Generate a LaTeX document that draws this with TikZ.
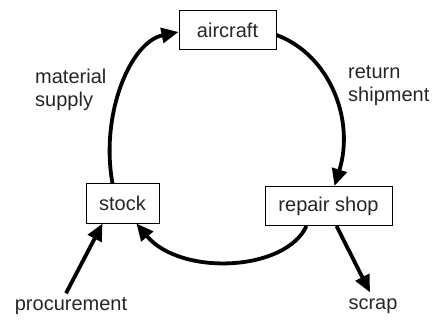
\documentclass[tikz,border=0pt]{standalone}
\usepackage{fontspec}
\setmainfont{Liberation Sans}
\usetikzlibrary{arrows.meta,calc}
\begin{document}
\begin{tikzpicture}[x=1pt,y=-1pt,
  every node/.style={font=\fontsize{20}{23}\selectfont, text=black!85},
  box/.style={draw=black, line width=1pt, fill=white, minimum height=39pt, inner sep=0pt},
  flow/.style={line width=3.8pt, -{Triangle[length=17pt,width=15pt]}},
  lbl/.style={align=left, inner sep=0pt}]
\useasboundingbox (0,0) rectangle (433,320);

\node[box, minimum width=97pt] (aircraft) at (227.5,30) {aircraft};
\node[box, minimum width=73pt] (stock) at (122.5,203.5) {stock};
\node[box, minimum width=127pt] (repair) at (328.5,206) {repair shop};

\node[lbl, anchor=west] (supply) at (35,90) {material\\supply};
\node[lbl, anchor=west] (return) at (348,86) {return\\shipment};
\node[inner sep=0pt] (procure) at (71,306) {procurement};
\node[inner sep=0pt] (scrap) at (373,306) {scrap};

\coordinate (procstart) at ($(procure.north)+(-5,-4)$);
\coordinate (scrapend) at ($(scrap.north)+(-3,-6)$);

% main cycle
\draw[flow] ($(stock.north)+(-10,0)$) .. controls (100,115) and (130,42) .. ($(aircraft.west)+(0,2)$);
\draw[flow] ($(aircraft.east)+(0,5)$) .. controls (330,55) and (355,120) .. ($(repair.north)+(6,0)$);
\draw[flow] ($(repair.south)+(-22,0)$) .. controls (285,272) and (180,276) .. ($(stock.south)+(14,0)$);

% inflow and outflow
\draw[flow] (procstart) -- ($(stock.south)+(-20,0)$);
\draw[flow] ($(repair.south)+(8,0)$) -- (scrapend);
\end{tikzpicture}
\end{document}
